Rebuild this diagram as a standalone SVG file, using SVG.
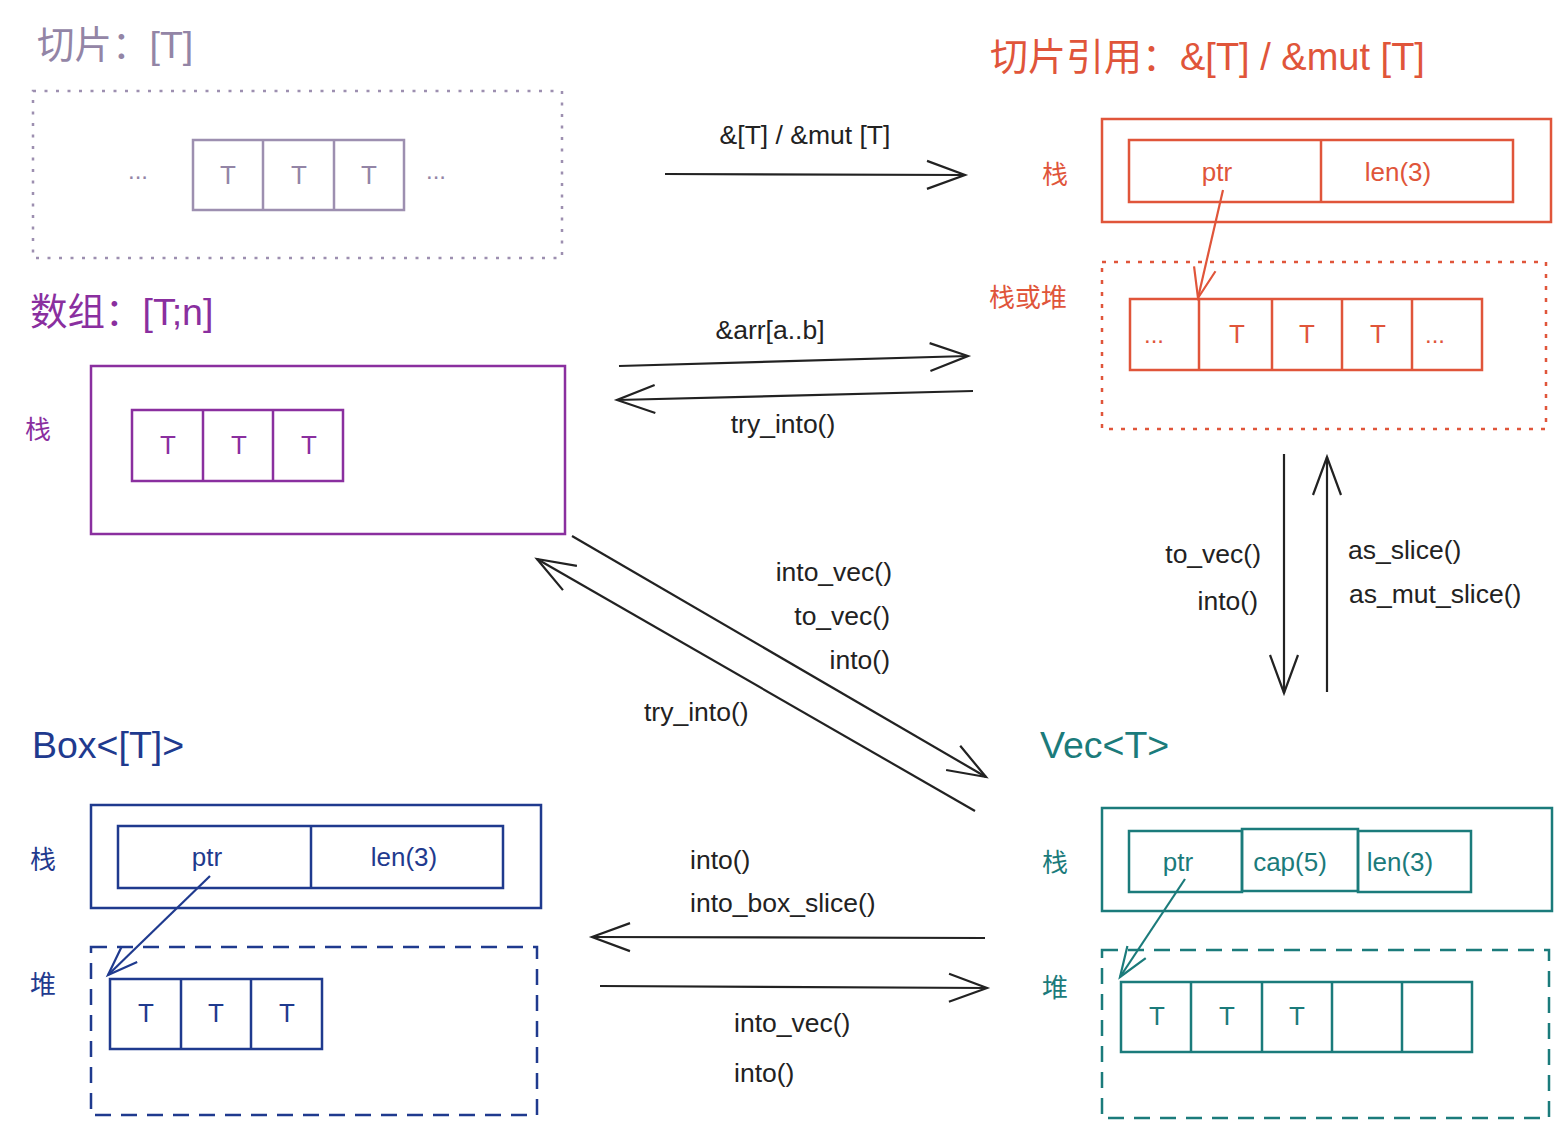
<svg xmlns="http://www.w3.org/2000/svg" width="1566" height="1128" viewBox="0 0 1566 1128">
<style>
text{font-family:"Liberation Sans","Noto Sans CJK SC",sans-serif}
.t{font-size:26px;text-anchor:middle}
.d{font-size:24px;text-anchor:middle}
.lbl{font-size:26.5px;fill:#222}
.cn{font-size:26px;text-anchor:middle}
.ttl{font-size:37.5px}
.box{fill:none;stroke-width:2.5}
.g{stroke:#9d8fb0}.gt{fill:#9385a6}
.o{stroke:#e0553a}.ot{fill:#e0553a}
.p{stroke:#8a2f9f}.pt{fill:#8a2f9f}
.n{stroke:#1f3a8e}.nt{fill:#1f3a8e}
.c{stroke:#1b7b7b}.ct{fill:#1b7b7b}
.conn{fill:none;stroke:#222;stroke-width:2.2}
</style>
<defs>
<marker id="ah" markerUnits="userSpaceOnUse" markerWidth="60" markerHeight="40" viewBox="-42 -20 46 40" refX="0" refY="0" orient="auto"><path d="M-38,-14 L0,0 L-38,14" fill="none" stroke="#222" stroke-width="2.2"/></marker>
<marker id="aho" markerUnits="userSpaceOnUse" markerWidth="40" markerHeight="30" viewBox="-32 -15 36 30" refX="0" refY="0" orient="auto"><path d="M-30,-11 L0,0 L-30,11" fill="none" stroke="#e0553a" stroke-width="2.2"/></marker>
<marker id="ahn" markerUnits="userSpaceOnUse" markerWidth="40" markerHeight="30" viewBox="-32 -15 36 30" refX="0" refY="0" orient="auto"><path d="M-30,-11 L0,0 L-30,11" fill="none" stroke="#1f3a8e" stroke-width="2.2"/></marker>
<marker id="ahc" markerUnits="userSpaceOnUse" markerWidth="40" markerHeight="30" viewBox="-32 -15 36 30" refX="0" refY="0" orient="auto"><path d="M-30,-11 L0,0 L-30,11" fill="none" stroke="#1b7b7b" stroke-width="2.2"/></marker>
</defs>
<rect width="1566" height="1128" fill="#fff"/>

<g id="slice">
<text class="ttl gt" x="37" y="58">切片：[T]</text>
<rect class="box g" x="33" y="91" width="529" height="167" stroke-dasharray="3 8.5" stroke-width="3"/>
<rect class="box g" x="193" y="140" width="211" height="70"/>
<line class="box g" x1="263" y1="140" x2="263" y2="210"/>
<line class="box g" x1="334" y1="140" x2="334" y2="210"/>
<text class="t gt" x="228" y="184">T</text>
<text class="t gt" x="299" y="184">T</text>
<text class="t gt" x="369" y="184">T</text>
<text class="d gt" x="138" y="179">...</text>
<text class="d gt" x="436" y="179">...</text>
</g>

<g id="sliceref">
<text class="ttl ot" x="990" y="70" style="font-size:38px">切片引用：&amp;[T] / &amp;mut [T]</text>
<text class="cn ot" x="1055" y="184">栈</text>
<rect class="box o" x="1102" y="119" width="449" height="103"/>
<rect class="box o" x="1129" y="140" width="384" height="62"/>
<line class="box o" x1="1321" y1="140" x2="1321" y2="202"/>
<text class="t ot" x="1217" y="181">ptr</text>
<text class="t ot" x="1398" y="181">len(3)</text>
<text class="cn ot" x="1028" y="307">栈或堆</text>
<rect class="box o" x="1102" y="262" width="444" height="167" stroke-dasharray="4 8" stroke-width="3"/>
<rect class="box o" x="1130" y="299" width="352" height="71"/>
<line class="box o" x1="1199" y1="299" x2="1199" y2="370"/>
<line class="box o" x1="1272" y1="299" x2="1272" y2="370"/>
<line class="box o" x1="1342" y1="299" x2="1342" y2="370"/>
<line class="box o" x1="1412" y1="299" x2="1412" y2="370"/>
<text class="d ot" x="1154" y="343">...</text>
<text class="t ot" x="1237" y="343">T</text>
<text class="t ot" x="1307" y="343">T</text>
<text class="t ot" x="1378" y="343">T</text>
<text class="d ot" x="1435" y="343">...</text>
<line x1="1223" y1="190" x2="1198" y2="298" stroke="#e0553a" stroke-width="2.2" marker-end="url(#aho)"/>
</g>

<g id="array">
<text class="ttl pt" x="30" y="325">数组：[T;n]</text>
<text class="cn pt" x="38" y="439">栈</text>
<rect class="box p" x="91" y="366" width="474" height="168"/>
<rect class="box p" x="132" y="410" width="211" height="71"/>
<line class="box p" x1="203" y1="410" x2="203" y2="481"/>
<line class="box p" x1="273" y1="410" x2="273" y2="481"/>
<text class="t pt" x="168" y="454">T</text>
<text class="t pt" x="239" y="454">T</text>
<text class="t pt" x="309" y="454">T</text>
</g>

<g id="boxslice">
<text class="ttl nt" x="32" y="758">Box&lt;[T]&gt;</text>
<text class="cn nt" x="43" y="869">栈</text>
<rect class="box n" x="91" y="805" width="450" height="103"/>
<rect class="box n" x="118" y="826" width="385" height="62"/>
<line class="box n" x1="311" y1="826" x2="311" y2="888"/>
<text class="t nt" x="207" y="866">ptr</text>
<text class="t nt" x="404" y="866">len(3)</text>
<text class="cn nt" x="43" y="994">堆</text>
<rect class="box n" x="91" y="947" width="446" height="168" stroke-dasharray="16 10" stroke-width="3"/>
<rect class="box n" x="110" y="979" width="212" height="70"/>
<line class="box n" x1="181" y1="979" x2="181" y2="1049"/>
<line class="box n" x1="251" y1="979" x2="251" y2="1049"/>
<text class="t nt" x="146" y="1022">T</text>
<text class="t nt" x="216" y="1022">T</text>
<text class="t nt" x="287" y="1022">T</text>
<line x1="210" y1="876" x2="108" y2="975" stroke="#1f3a8e" stroke-width="2.2" marker-end="url(#ahn)"/>
</g>

<g id="vec">
<text class="ttl ct" x="1040" y="758">Vec&lt;T&gt;</text>
<text class="cn ct" x="1055" y="872">栈</text>
<rect class="box c" x="1102" y="808" width="450" height="103"/>
<rect class="box c" x="1129" y="831" width="113" height="61"/>
<rect class="box c" x="1242" y="829" width="116" height="62"/>
<rect class="box c" x="1358" y="831" width="113" height="61"/>
<text class="t ct" x="1178" y="871">ptr</text>
<text class="t ct" x="1290" y="871">cap(5)</text>
<text class="t ct" x="1400" y="871">len(3)</text>
<text class="cn ct" x="1055" y="997">堆</text>
<rect class="box c" x="1102" y="950" width="447" height="168" stroke-dasharray="16 10" stroke-width="3"/>
<rect class="box c" x="1121" y="982" width="351" height="70"/>
<line class="box c" x1="1191" y1="982" x2="1191" y2="1052"/>
<line class="box c" x1="1262" y1="982" x2="1262" y2="1052"/>
<line class="box c" x1="1332" y1="982" x2="1332" y2="1052"/>
<line class="box c" x1="1402" y1="982" x2="1402" y2="1052"/>
<text class="t ct" x="1157" y="1025">T</text>
<text class="t ct" x="1227" y="1025">T</text>
<text class="t ct" x="1297" y="1025">T</text>
<line x1="1185" y1="879" x2="1120" y2="977" stroke="#1b7b7b" stroke-width="2.2" marker-end="url(#ahc)"/>
</g>

<g id="connectors">
<line class="conn" x1="665" y1="174" x2="965" y2="175" marker-end="url(#ah)"/>
<text class="lbl" x="805" y="144" text-anchor="middle">&amp;[T] / &amp;mut [T]</text>
<line class="conn" x1="619" y1="366" x2="968" y2="356" marker-end="url(#ah)"/>
<text class="lbl" x="770" y="339" text-anchor="middle">&amp;arr[a..b]</text>
<line class="conn" x1="973" y1="391" x2="617" y2="400" marker-end="url(#ah)"/>
<text class="lbl" x="783" y="433" text-anchor="middle">try_into()</text>
<line class="conn" x1="572" y1="536" x2="986" y2="777" marker-end="url(#ah)"/>
<text class="lbl" x="892" y="581" text-anchor="end">into_vec()</text>
<text class="lbl" x="890" y="625" text-anchor="end">to_vec()</text>
<text class="lbl" x="890" y="669" text-anchor="end">into()</text>
<line class="conn" x1="975" y1="811" x2="537" y2="559" marker-end="url(#ah)"/>
<text class="lbl" x="644" y="721">try_into()</text>
<line class="conn" x1="1284" y1="454" x2="1284" y2="693" marker-end="url(#ah)"/>
<text class="lbl" x="1261" y="563" text-anchor="end">to_vec()</text>
<text class="lbl" x="1258" y="610" text-anchor="end">into()</text>
<line class="conn" x1="1327" y1="692" x2="1327" y2="457" marker-end="url(#ah)"/>
<text class="lbl" x="1348" y="559">as_slice()</text>
<text class="lbl" x="1349" y="603">as_mut_slice()</text>
<line class="conn" x1="985" y1="938" x2="592" y2="937" marker-end="url(#ah)"/>
<text class="lbl" x="690" y="869">into()</text>
<text class="lbl" x="690" y="912">into_box_slice()</text>
<line class="conn" x1="600" y1="986" x2="987" y2="988" marker-end="url(#ah)"/>
<text class="lbl" x="734" y="1032">into_vec()</text>
<text class="lbl" x="734" y="1082">into()</text>
</g>
</svg>
